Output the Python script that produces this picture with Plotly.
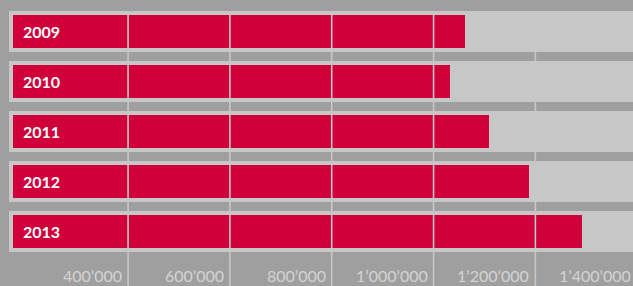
import plotly.graph_objects as go

years = ["2009", "2010", "2011", "2012", "2013"]
values = [1062000, 1033000, 1109000, 1188000, 1292000]
tick_values = [400000, 600000, 800000, 1000000, 1200000, 1400000]
tick_labels = ["400’000", "600’000", "800’000", "1’000’000", "1’200’000", "1’400’000"]

BG = "#9e9f9e"
LIGHT = "#c6c7c6"
RED = "#d0003a"
RED_BASE = 174000
ROW_BASE = 166000
ROW_END = 1500000
X_RANGE = [148500, 1391700]

fig = go.Figure()
fig.add_trace(go.Bar(
    y=years, x=[ROW_END - ROW_BASE] * len(years), base=ROW_BASE,
    orientation="h", marker=dict(color=LIGHT, line=dict(width=0)),
    width=0.82, hoverinfo="skip", showlegend=False,
))
fig.add_trace(go.Bar(
    y=years, x=[v - RED_BASE for v in values], base=RED_BASE,
    orientation="h", marker=dict(color=RED, line=dict(width=0)),
    width=0.66, customdata=values, hovertemplate="%{y}: %{customdata:,}<extra></extra>",
    showlegend=False,
))

shapes = []
annotations = []
for tv, tl in zip(tick_values, tick_labels):
    shapes.append(dict(type="line", xref="x", yref="y", x0=tv, x1=tv, y0=-0.41, y1=5.2,
                       line=dict(color=LIGHT, width=1.6), layer="above"))
    frac = (tv - X_RANGE[0]) / (X_RANGE[1] - X_RANGE[0])
    annotations.append(dict(x=frac, y=0, xref="paper", yref="paper", text=tl, showarrow=False,
                            xanchor="right", yanchor="bottom", xshift=-4, yshift=-1,
                            font=dict(family="Lato", size=16, color="#d4d4d4")))
for i, yr in enumerate(years):
    annotations.append(dict(x=RED_BASE, y=i, xref="x", yref="y", text="<b>" + yr + "</b>",
                            showarrow=False, xanchor="left", yanchor="middle", xshift=8,
                            font=dict(family="Lato", size=16, color="white")))

fig.update_layout(
    width=633, height=286,
    margin=dict(l=0, r=0, t=0, b=0),
    paper_bgcolor=BG, plot_bgcolor=BG,
    barmode="overlay",
    bargap=0,
    shapes=shapes, annotations=annotations,
    xaxis=dict(range=X_RANGE, showgrid=False, zeroline=False,
               showticklabels=False, showline=False, fixedrange=True),
    yaxis=dict(type="category", categoryarray=years, range=[5.09, -0.63],
               showgrid=False, zeroline=False, showticklabels=False, showline=False,
               fixedrange=True),
)

fig.write_html(
    "out.html",
    config={"displayModeBar": False},
    post_script="document.body.style.margin='0';document.body.style.overflow='hidden';"
                "document.body.style.background='#9e9f9e';",
)
